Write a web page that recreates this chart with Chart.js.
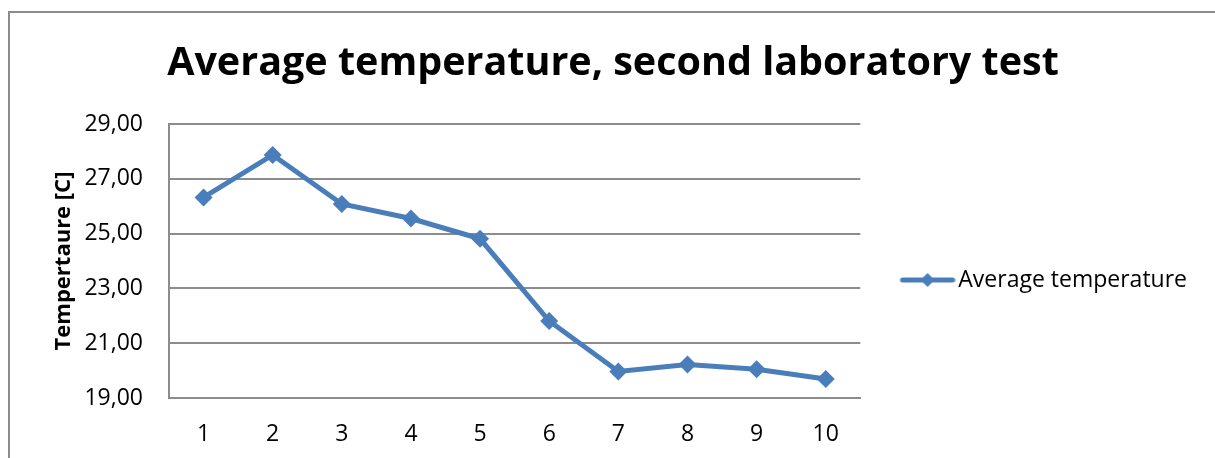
<!DOCTYPE html>
<html>
<head>
<meta charset="utf-8">
<script src="https://cdn.jsdelivr.net/npm/chart.js@4"></script>
<style>
  html, body { margin: 0; padding: 0; background: #fff; }
  #wrap { position: relative; width: 1215px; height: 458px; overflow: hidden; }
  #frame { position: absolute; left: 8px; top: 11px; width: 1300px; height: 600px; border: 2px solid #8c8c8c; box-sizing: border-box; }
  canvas { position: absolute; left: 0; top: 0; }
</style>
</head>
<body>
<div id="wrap">
  <div id="frame"></div>
  <canvas id="tempChart" width="1215" height="458"></canvas>
</div>
<script>
const runs = ['1', '2', '3', '4', '5', '6', '7', '8', '9', '10'];
const avgTemperature = [26.32, 27.87, 26.08, 25.55, 24.81, 21.81, 19.97, 20.22, 20.05, 19.69];
const yTickValues = [19, 21, 23, 25, 27, 29];

const lineColor = '#4a7ebb';
const gridColor = '#8c8c8c';
const padLeft = 29;

// line + diamond swatch for the legend, like the office chart
function legendMarker() {
    const c = document.createElement('canvas');
    c.width = 64;
    c.height = 16;
    const g = c.getContext('2d');
    g.strokeStyle = lineColor;
    g.lineWidth = 5;
    g.lineCap = 'round';
    g.beginPath();
    g.moveTo(11, 8);
    g.lineTo(61, 8);
    g.stroke();
    g.fillStyle = lineColor;
    g.beginPath();
    g.moveTo(29, 8);
    g.lineTo(36, 1);
    g.lineTo(43, 8);
    g.lineTo(36, 15);
    g.closePath();
    g.fill();
    return c;
}

const ctx = document.getElementById('tempChart').getContext('2d');
const tempChart = new Chart(ctx, {
    type: 'line',
    data: {
        labels: runs,
        datasets: [
            {
                label: 'Average temperature',
                data: avgTemperature,
                borderColor: lineColor,
                backgroundColor: lineColor,
                borderWidth: 5,
                tension: 0,
                pointStyle: 'rectRot',
                pointRadius: 9,
                pointBorderWidth: 0,
                pointBackgroundColor: lineColor
            }
        ]
    },
    options: {
        responsive: false,
        animation: false,
        layout: { padding: { left: padLeft, right: 18, top: 0, bottom: 0 } },
        plugins: {
            title: {
                display: true,
                text: 'Average temperature, second laboratory test',
                color: '#000',
                font: { family: 'Open Sans', size: 39.5, weight: 'bold', lineHeight: 1.2 },
                padding: { top: 40, bottom: 36.6 }
            },
            legend: {
                position: 'right',
                align: 'center',
                maxWidth: 400,
                // empty title only pushes the entry down to the middle of the plot
                title: { display: true, text: '', font: { size: 10, lineHeight: 1.2 }, padding: { top: 90, bottom: 0 } },
                labels: {
                    color: '#000',
                    font: { family: 'Open Sans', size: 23 },
                    usePointStyle: true,
                    pointStyle: legendMarker(),
                    pointStyleWidth: 46.5,
                    padding: 40
                }
            },
            tooltip: { enabled: false }
        },
        scales: {
            x: {
                offset: true,
                grid: { display: false },
                border: { display: true, color: gridColor, width: 2 },
                ticks: {
                    color: '#000',
                    font: { family: 'Open Sans', size: 23 },
                    padding: 15,
                    maxRotation: 0
                },
                afterFit: scale => { scale.height = 60; }
            },
            y: {
                min: 19,
                max: 29,
                afterBuildTicks: scale => { scale.ticks = yTickValues.map(v => ({ value: v })); },
                grid: { color: gridColor, lineWidth: 2, drawTicks: false },
                border: { display: true, color: gridColor, width: 2 },
                ticks: {
                    color: '#000',
                    font: { family: 'Open Sans', size: 23 },
                    padding: 26,
                    callback: v => v.toFixed(2).replace('.', ',')
                },
                title: {
                    display: true,
                    text: 'Tempertaure [C]',
                    color: '#000',
                    font: { family: 'Open Sans', size: 22, weight: 'bold', lineHeight: 1.2 },
                    padding: { top: 51 - padLeft, bottom: 0 }
                },
                afterFit: scale => { scale.width = 169 - padLeft; }
            }
        }
    }
});
</script>
</body>
</html>
